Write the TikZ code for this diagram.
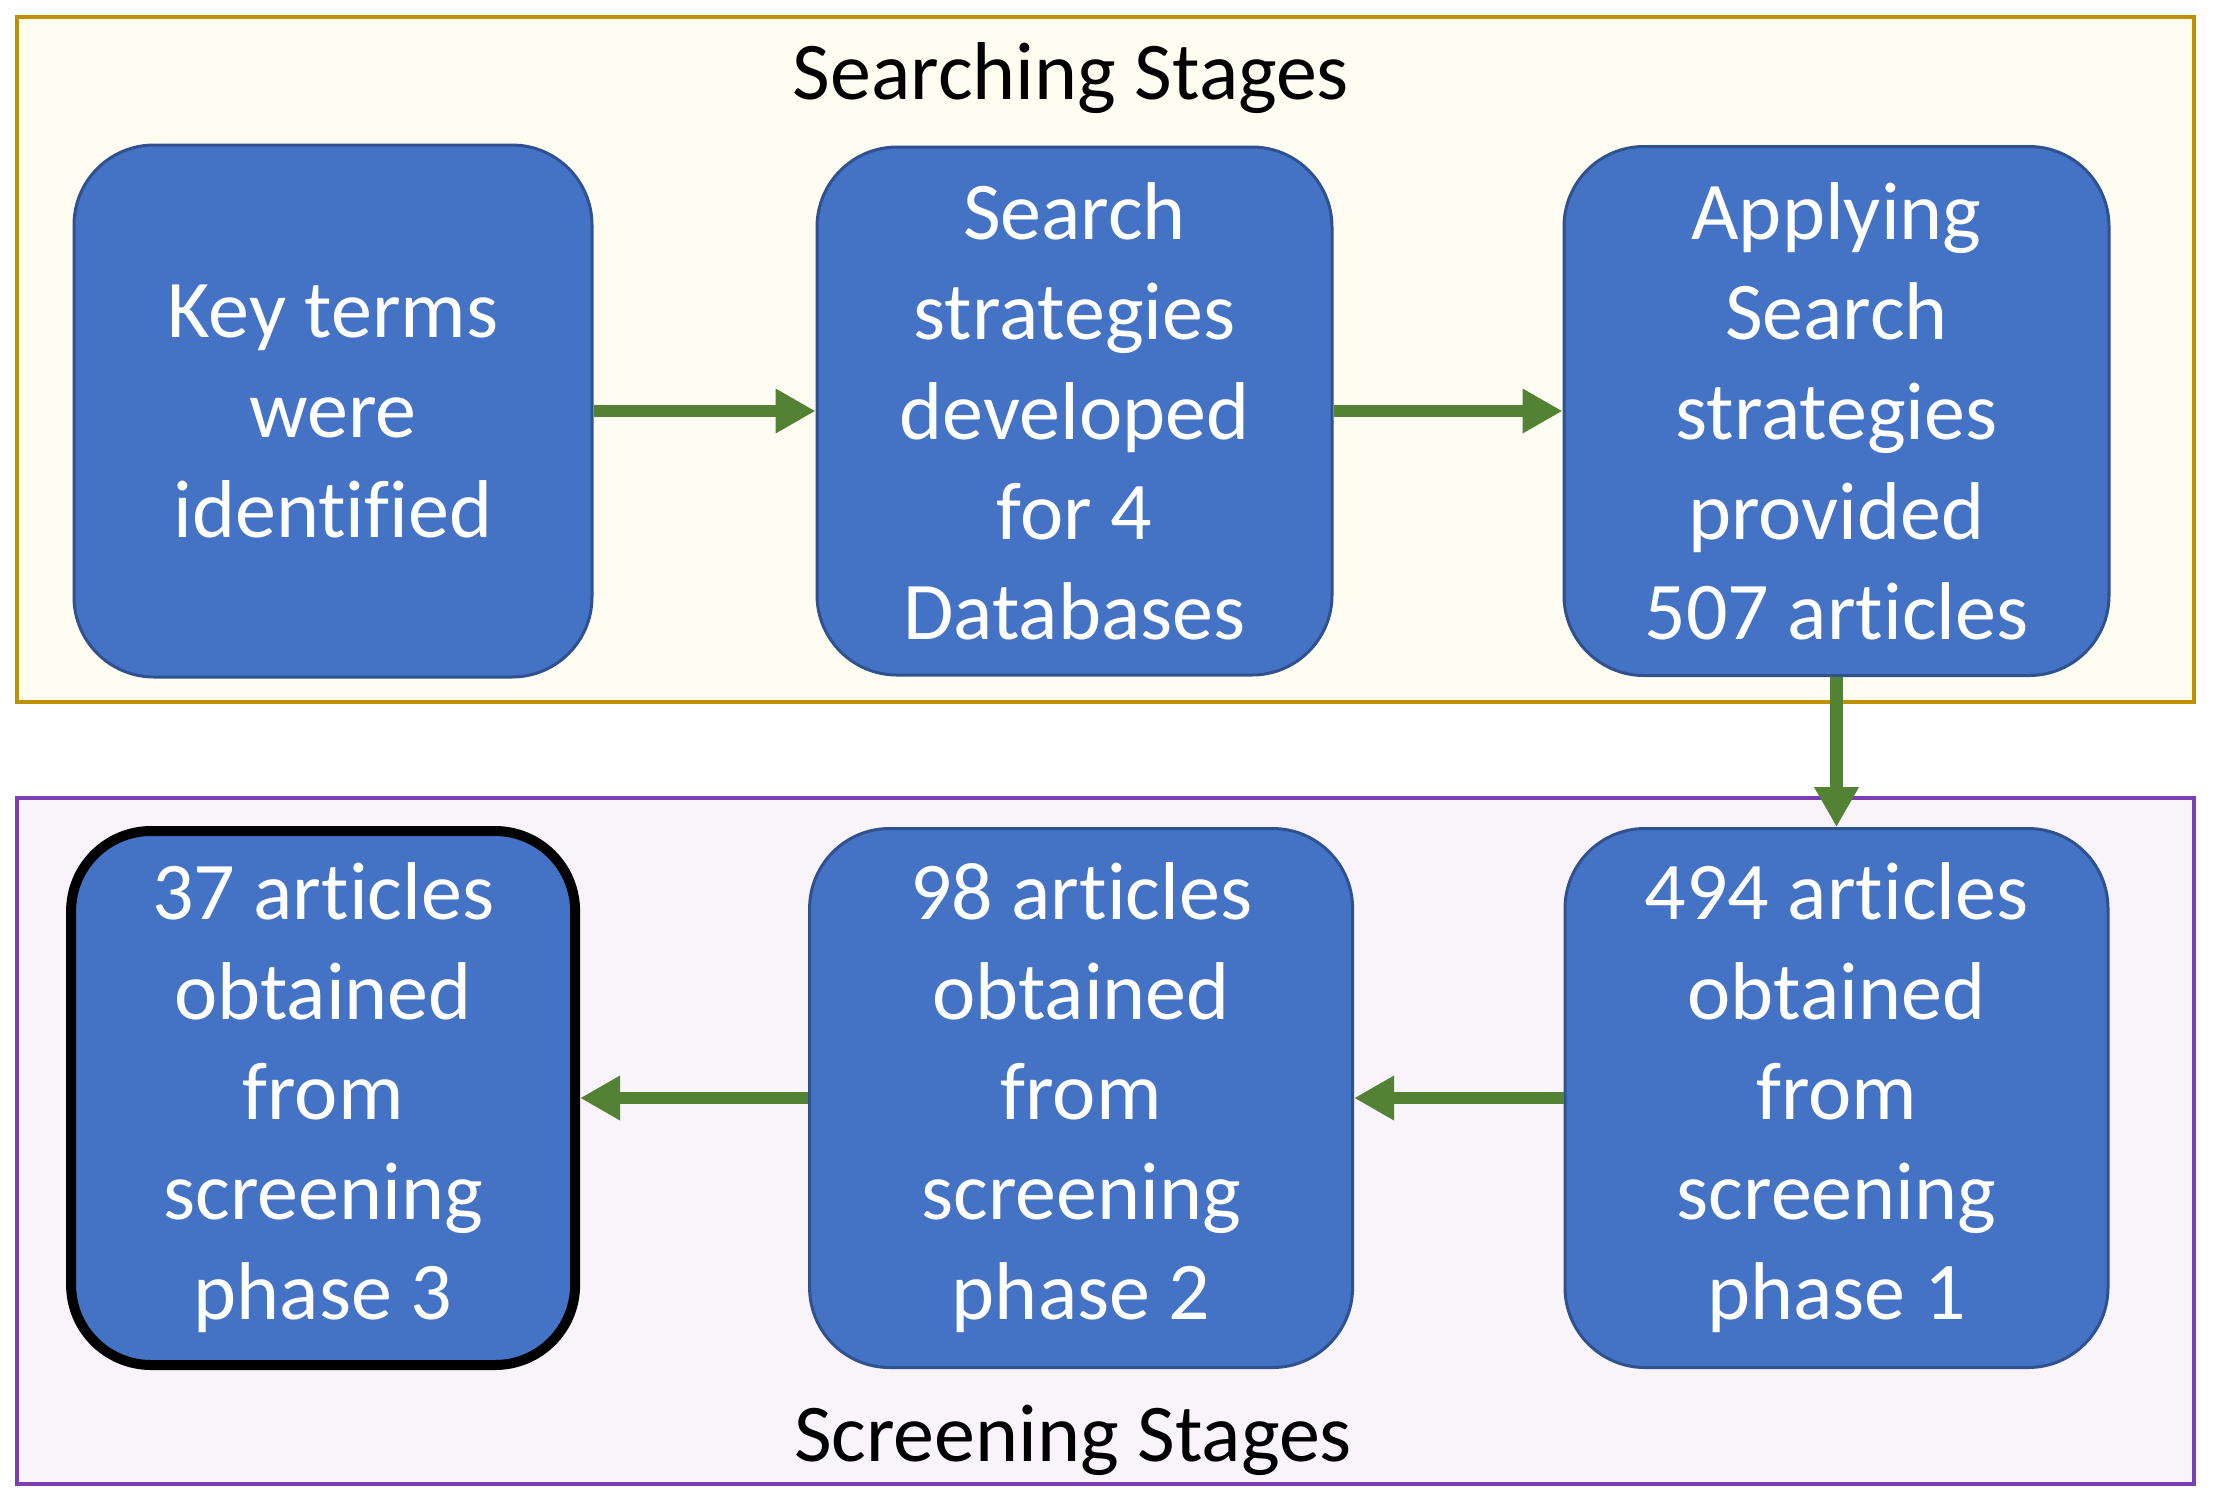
\documentclass[tikz,border=0pt]{standalone}
\usepackage{fontspec}
\setmainfont{Carlito}[Ligatures=NoCommon]
\usetikzlibrary{arrows.meta,positioning}
\definecolor{boxblue}{HTML}{4472C4}
\definecolor{boxedge}{HTML}{2F528F}
\definecolor{flowgreen}{HTML}{548235}
\definecolor{searchfill}{HTML}{FFFDF1}
\definecolor{searchedge}{HTML}{BF9000}
\definecolor{screenfill}{HTML}{F8F4FA}
\definecolor{screenedge}{HTML}{7B3FB0}

\begin{document}
\begin{tikzpicture}[
  x=1pt, y=1pt,
  >={Triangle[length=20pt,width=21pt]},
  every node/.style={font=\fontsize{41}{50}\selectfont},
  stage/.style={draw=boxedge, line width=1.5pt, fill=boxblue, text=white, rounded corners=40pt, align=center, inner sep=0pt},
  frame/.style={draw=#1edge, fill=#1fill, line width=2pt},
  flow/.style={->, draw=flowgreen, line width=6.3pt}
]
\useasboundingbox (0,0) rectangle (1111,-753);
\path[frame=search] (8.5,-8.5) rectangle (1097,-351);
\path[frame=screen] (8.5,-399) rectangle (1097,-742);
\node[anchor=base] (searchtitle) at (535.5,-49.5) {Searching Stages};
\node[anchor=base] (screentitle) at (536.5,-730.5) {Screening Stages};
\node[stage, minimum width=259pt, minimum height=266pt] (keyterms) at (166.5,-205.5) {Key terms\\were\\identified};
\node[stage, minimum width=257.5pt, minimum height=264pt, right=111pt of keyterms] (strategies) {Search\\strategies\\developed\\for 4\\Databases};
\node[stage, minimum width=272.5pt, minimum height=264.5pt, right=114.5pt of strategies] (applying) {Applying\\Search\\strategies\\provided\\507 articles};
\node[stage, minimum width=271.5pt, minimum height=269.5pt, below=75pt of applying] (phaseone) {494 articles\\obtained\\from\\screening\\phase 1};
\node[stage, minimum width=271.5pt, minimum height=269.5pt, left=104.7pt of phaseone] (phasetwo) {98 articles\\obtained\\from\\screening\\phase 2};
\node[stage, draw=black, line width=5pt, minimum width=252pt, minimum height=267pt, left=114pt of phasetwo] (phasethree) {37 articles\\obtained\\from\\screening\\phase 3};
\foreach \a/\b in {keyterms.east/strategies.west,strategies.east/applying.west,applying.south/phaseone.north,phaseone.west/phasetwo.east,phasetwo.west/phasethree.east}{\draw[flow] (\a) -- (\b);}
\end{tikzpicture}
\end{document}
